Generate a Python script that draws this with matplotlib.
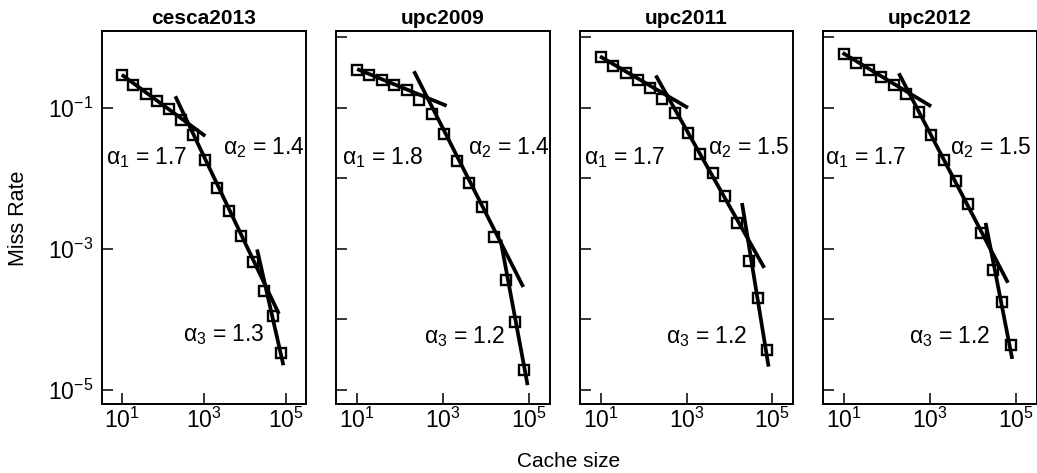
import matplotlib
matplotlib.use("Agg")
import matplotlib.pyplot as plt

plt.rcParams['font.family'] = ['Liberation Sans', 'DejaVu Sans']
plt.rcParams['mathtext.fontset'] = 'custom'
plt.rcParams['mathtext.rm'] = 'Liberation Sans'
plt.rcParams['mathtext.it'] = 'Liberation Sans'
plt.rcParams['mathtext.bf'] = 'Liberation Sans:bold'

# cache sizes (same for every trace)
cache_size = [10, 19, 38, 72, 141, 269, 537, 1070, 2090, 4070,
              7760, 15100, 28800, 46800, 74100]

traces = ["cesca2013", "upc2009", "upc2011", "upc2012"]

miss_cesca2013 = [0.295, 0.214, 0.158, 0.124, 0.0955, 0.0676, 0.0407, 0.0182,
                  0.00741, 0.00339, 0.00151, 0.000661, 0.000251, 0.00011, 3.3e-5]
miss_upc2009 = [0.348, 0.295, 0.251, 0.214, 0.178, 0.130, 0.0826, 0.0430,
                0.0174, 0.00851, 0.00389, 0.00148, 0.000363, 9.3e-5, 1.9e-5]
miss_upc2011 = [0.525, 0.389, 0.316, 0.251, 0.191, 0.135, 0.0851, 0.0447,
                0.0224, 0.0120, 0.00562, 0.00234, 0.000676, 0.0002, 3.7e-5]
miss_upc2012 = [0.575, 0.427, 0.339, 0.275, 0.214, 0.155, 0.0871, 0.0417,
                0.0182, 0.00912, 0.00437, 0.00166, 0.000501, 0.000178, 4.27e-5]
miss_rates = [miss_cesca2013, miss_upc2009, miss_upc2011, miss_upc2012]

# fitted segments: (x_start, x_end, y_start, y_end) for alpha1, alpha2, alpha3
fits_cesca2013 = [(10, 1070, 0.295, 0.0398),
                  (200, 66000, 0.146, 1.2e-4),
                  (19500, 85000, 9.8e-4, 2.24e-5)]
fits_upc2009 = [(10, 1200, 0.355, 0.107),
                (209, 72400, 0.331, 2.88e-4),
                (21400, 91200, 1.35e-3, 1.17e-5)]
fits_upc2011 = [(9.5, 1070, 0.537, 0.1),
                (190, 64600, 0.288, 5.37e-4),
                (19500, 81300, 4.47e-3, 2.14e-5)]
fits_upc2012 = [(9.1, 1050, 0.603, 0.105),
                (186, 64600, 0.309, 3.31e-4),
                (19500, 81300, 2.34e-3, 2.75e-5)]
fits = [fits_cesca2013, fits_upc2009, fits_upc2011, fits_upc2012]

alpha1 = ["1.7", "1.8", "1.7", "1.7"]
alpha2 = ["1.4", "1.4", "1.5", "1.5"]
alpha3 = ["1.3", "1.2", "1.2", "1.2"]

# label positions (log10 x, log10 y)
label_pos = [
    [(1.61, -1.70), (4.46, -1.56), (3.48, -4.22)],
    [(1.59, -1.71), (4.53, -1.57), (3.51, -4.24)],
    [(1.56, -1.71), (4.46, -1.57), (3.46, -4.24)],
    [(1.50, -1.71), (4.42, -1.57), (3.45, -4.24)],
]

W, H = 1037, 473
fig = plt.figure(figsize=(W / 100, H / 100), dpi=100)

lefts = [101.7, 336, 580, 823.3]
widths = [204.3, 214, 213, 213.4]
top, bottom = 31, 404

for i, name in enumerate(traces):
    ax = fig.add_axes([lefts[i] / W, (H - bottom) / H, widths[i] / W, (bottom - top) / H])
    ax.set_xscale('log')
    ax.set_yscale('log')

    ax.plot(cache_size, miss_rates[i], linestyle='none', marker='s', ms=6.8,
            mfc='none', mec='black', mew=1.7)
    for x0, x1, y0, y1 in fits[i]:
        ax.plot([x0, x1], [y0, y1], color='black', lw=2.7, solid_capstyle='butt')

    vals = [alpha1[i], alpha2[i], alpha3[i]]
    for k, ((lx, ly), v) in enumerate(zip(label_pos[i], vals)):
        ax.text(10 ** lx, 10 ** ly, r'$\alpha_{%d}$ = %s' % (k + 1, v),
                fontsize=16.5, ha='center', va='center')

    ax.set_xlim(10 ** 0.51, 10 ** 5.48)
    ax.set_ylim(10 ** -5.2, 10 ** 0.09)
    ax.set_xticks([10, 1e3, 1e5])
    ax.set_xticklabels([r'$10^{1}$', r'$10^{3}$', r'$10^{5}$'])
    if i == 0:
        ax.set_yticks([1e-1, 1e-3, 1e-5])
        ax.set_yticklabels([r'$10^{-1}$', r'$10^{-3}$', r'$10^{-5}$'])
    else:
        ax.set_yticks([1, 1e-1, 1e-2, 1e-3, 1e-4, 1e-5])
        ax.set_yticklabels([])
    ax.minorticks_off()
    ax.tick_params(direction='in', length=8, width=1.1, labelsize=16.5, pad=3)
    ax.tick_params(axis='y', pad=6)
    for s in ax.spines.values():
        s.set_linewidth(1.4)
    ax.set_title(name, fontsize=15, fontweight='bold', pad=5)

fig.text(569 / W, 1 - 461 / H, "Cache size", fontsize=15, ha='center', va='center')
fig.text(19 / W, 1 - 218 / H, "Miss Rate", fontsize=15.5, ha='center', va='center',
         rotation=90)

fig.savefig("out.png", dpi=100)
